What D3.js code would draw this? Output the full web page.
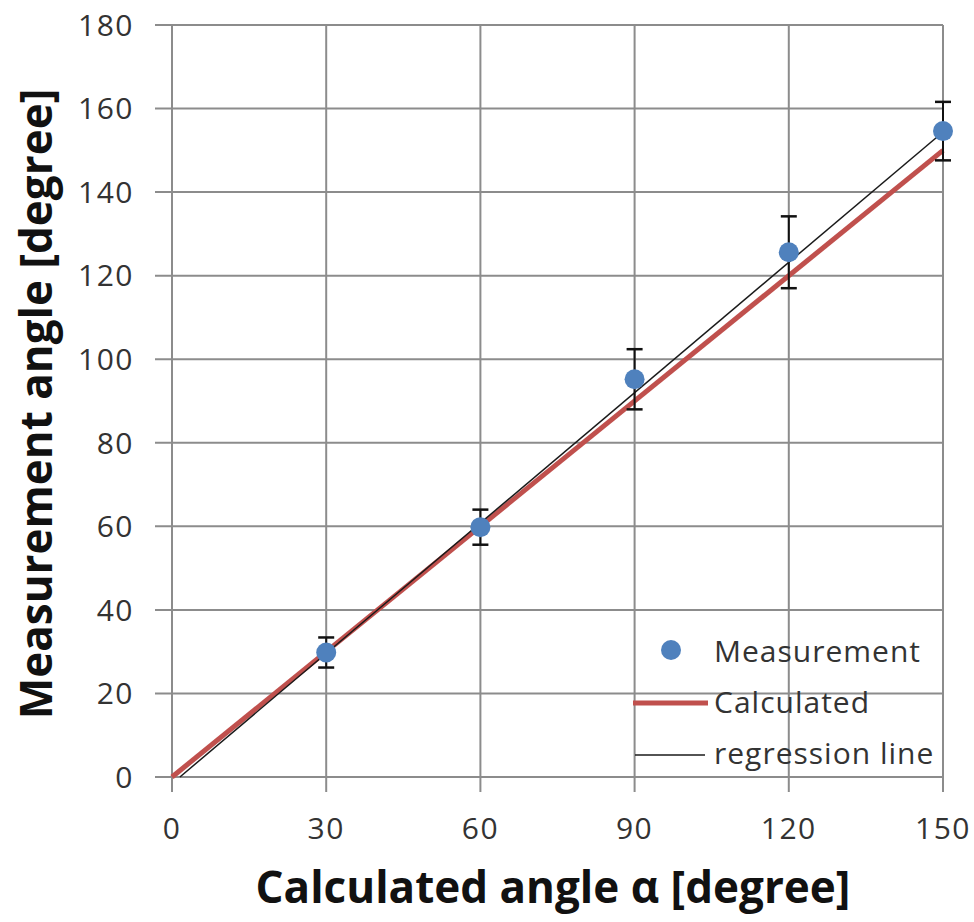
<!DOCTYPE html>
<html>
<head>
<meta charset="utf-8">
<script src="https://cdn.jsdelivr.net/npm/d3@7"></script>
<style>
  body { margin: 0; background: #fff; }
  svg text { font-family: "Open Sans", "Noto Sans", sans-serif; }
</style>
</head>
<body>
<div id="chart"></div>
<script>
// measured angles with their error bars
const calcAngles = [30, 60, 90, 120, 150]
const measAngles = [29.8, 59.8, 95.2, 125.6, 154.6]
const measErr = [3.6, 4.2, 7.2, 8.6, 7]

// calculated line (y = x) and the fitted regression
const calcLine = [[0, 0], [150, 150]]
const regSlope = 1.04
const regIntercept = -1.6

const xTicks = [0, 30, 60, 90, 120, 150]
const yTicks = [0, 20, 40, 60, 80, 100, 120, 140, 160, 180]

const width = 974, height = 922
const margin = {top: 25, right: 31, bottom: 145, left: 172}

const svg = d3.select("#chart").append("svg")
  .attr("width", width)
  .attr("height", height)

const x = d3.scaleLinear().domain([0, 150]).range([margin.left, width - margin.right])
const y = d3.scaleLinear().domain([0, 180]).range([height - margin.bottom, margin.top])

const gridColor = "#8c8c8c"
const textColor = "#333"

// gridlines, with the tick marks sticking out past the axes
svg.append("g")
  .selectAll("line")
  .data(yTicks)
  .enter().append("line")
  .attr("x1", x(0) - 17)
  .attr("x2", x(150))
  .attr("y1", d => y(d))
  .attr("y2", d => y(d))
  .attr("stroke", gridColor)
  .attr("stroke-width", 2)

svg.append("g")
  .selectAll("line")
  .data(xTicks)
  .enter().append("line")
  .attr("x1", d => x(d))
  .attr("x2", d => x(d))
  .attr("y1", y(180))
  .attr("y2", y(0) + 15)
  .attr("stroke", gridColor)
  .attr("stroke-width", 2)

// tick labels
svg.append("g")
  .selectAll("text")
  .data(yTicks)
  .enter().append("text")
  .attr("x", 134)
  .attr("y", d => y(d))
  .attr("dy", "0.36em")
  .attr("text-anchor", "end")
  .attr("font-size", 30)
  .attr("letter-spacing", 1.5)
  .attr("fill", textColor)
  .text(d => d)

svg.append("g")
  .selectAll("text")
  .data(xTicks)
  .enter().append("text")
  .attr("x", d => x(d))
  .attr("y", 839)
  .attr("text-anchor", "middle")
  .attr("font-size", 30)
  .attr("letter-spacing", 1.5)
  .attr("fill", textColor)
  .text(d => d)

// calculated line
const line = d3.line().x(d => x(d[0])).y(d => y(d[1]))
svg.append("path")
  .datum(calcLine)
  .attr("d", line)
  .attr("fill", "none")
  .attr("stroke", "#c0504d")
  .attr("stroke-width", 5)

// regression line, from where it crosses zero to the last point
const regX0 = -regIntercept / regSlope
svg.append("path")
  .datum([[regX0, 0], [150, regSlope * 150 + regIntercept]])
  .attr("d", line)
  .attr("fill", "none")
  .attr("stroke", "#1a1a1a")
  .attr("stroke-width", 1.5)

// error bars
const bars = svg.append("g")
calcAngles.forEach(function(a, i) {
  const lo = measAngles[i] - measErr[i], hi = measAngles[i] + measErr[i]
  bars.append("line")
    .attr("x1", x(a)).attr("x2", x(a))
    .attr("y1", y(lo)).attr("y2", y(hi))
    .attr("stroke", "#111").attr("stroke-width", 2)
  ;[lo, hi].forEach(function(v) {
    bars.append("line")
      .attr("x1", x(a) - 8).attr("x2", x(a) + 8)
      .attr("y1", y(v)).attr("y2", y(v))
      .attr("stroke", "#111").attr("stroke-width", 2.5)
  })
})

// measurement points
svg.append("g")
  .selectAll("circle")
  .data(calcAngles)
  .enter().append("circle")
  .attr("cx", d => x(d))
  .attr("cy", (d, i) => y(measAngles[i]))
  .attr("r", 10)
  .attr("fill", "#4f81bd")

// legend
const legend = svg.append("g")
legend.append("circle").attr("cx", 671).attr("cy", 650).attr("r", 10).attr("fill", "#4f81bd")
legend.append("line").attr("x1", 633).attr("x2", 708).attr("y1", 703).attr("y2", 703)
  .attr("stroke", "#c0504d").attr("stroke-width", 5)
legend.append("line").attr("x1", 635).attr("x2", 705).attr("y1", 755).attr("y2", 755)
  .attr("stroke", "#1a1a1a").attr("stroke-width", 1.5)
const legendLabels = ["Measurement", "Calculated", "regression line"]
legend.selectAll("text")
  .data(legendLabels)
  .enter().append("text")
  .attr("x", 714)
  .attr("y", (d, i) => 662 + i * 51)
  .attr("font-size", 30)
  .attr("letter-spacing", 1)
  .attr("fill", textColor)
  .text(d => d)

// axis titles
svg.append("text")
  .attr("x", 553)
  .attr("y", 903)
  .attr("text-anchor", "middle")
  .attr("font-size", 44)
  .attr("font-weight", "bold")
  .attr("fill", "#111")
  .text("Calculated angle α [degree]")

svg.append("text")
  .attr("transform", "translate(52,404) rotate(-90)")
  .attr("text-anchor", "middle")
  .attr("font-size", 44)
  .attr("font-weight", "bold")
  .attr("fill", "#111")
  .text("Measurement angle [degree]")
</script>
</body>
</html>
